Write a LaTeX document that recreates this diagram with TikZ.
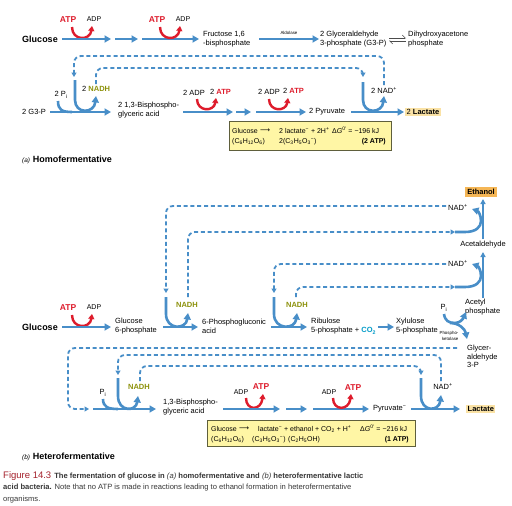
\documentclass[tikz,border=0pt]{standalone}
\usepackage{fontspec}
\setmainfont{Liberation Sans}
\newfontfamily\dejavu{DejaVu Sans}
\usetikzlibrary{arrows.meta}
\definecolor{flowblue}{RGB}{72,142,200}
\definecolor{atpred}{RGB}{222,28,44}
\definecolor{nadhcol}{RGB}{140,145,10}
\definecolor{cotwo}{RGB}{0,155,200}
\definecolor{boxfill}{RGB}{255,246,165}
\definecolor{boxline}{RGB}{95,95,60}
\definecolor{lacfill}{RGB}{250,226,165}
\definecolor{ethfill}{RGB}{245,182,85}
\definecolor{figred}{RGB}{165,35,45}
\definecolor{captxt}{RGB}{55,55,55}
\newcommand{\nadh}{\textcolor{nadhcol}{\bfseries NADH}}
\newcommand{\atp}{\textcolor{atpred}{\bfseries ATP}}
\begin{document}
\begin{tikzpicture}[x=1pt,y=-1pt,
  flow/.style={draw=flowblue,line width=2.6pt,-{Triangle[length=6.5pt,width=7pt]}},
  flowline/.style={draw=flowblue,line width=2.6pt},
  thinflow/.style={draw=flowblue,line width=1.4pt,-{Triangle[length=5pt,width=5pt]}},
  dashflow/.style={draw=flowblue,line width=1.8pt,dash pattern=on 4pt off 2.8pt,-{Triangle[length=4.5pt,width=5pt]},rounded corners=7pt},
  redarc/.style={draw=atpred,line width=2.4pt,-{Triangle[length=5pt,width=6pt]}},
  lbl/.style={inner sep=0pt,font=\fontsize{7.5}{9}\selectfont,align=left,anchor=west},
  lblc/.style={inner sep=0pt,font=\fontsize{7.5}{9}\selectfont,align=left},
  small/.style={inner sep=0pt,font=\fontsize{7}{8}\selectfont},
  atplbl/.style={inner sep=0pt,font=\fontsize{8.5}{9}\selectfont\bfseries,text=atpred},
  big/.style={inner sep=0pt,font=\fontsize{9}{10}\selectfont\bfseries},
  tiny/.style={inner sep=0pt,font=\fontsize{4.4}{5.2}\selectfont,align=left},
  boxtxt/.style={inner sep=0pt,font=\fontsize{7}{8}\selectfont,anchor=west},
  eqbox/.style={draw=boxline,fill=boxfill,line width=0.8pt},
  harp/.style={draw=black!70,line width=0.6pt,-{Straight Barb[left,length=3pt]}},
  captfont/.style={inner sep=0pt,anchor=west,font=\fontsize{7.6}{9}\selectfont,text=captxt}
]
\useasboundingbox[fill=white] (0,0) rectangle (512,506);

%================ (a) Homofermentative =================
% row 1
\node[big] (glcA) at (40,39) {Glucose};
\node[atplbl] (atpA1) at (68,20) {ATP};
\node[small] (adpA1) at (94,19) {ADP};
\coordinate (rA1s) at (72,27); \coordinate (rA1e) at (92,26);
\draw[redarc] (rA1s) .. controls (72,41) and (90,41) .. (rA1e);
\coordinate (a1s) at (62,39); \coordinate (a1e) at (111,39);
\coordinate (a2s) at (115,39); \coordinate (a2e) at (138,39);
\coordinate (a3s) at (142,39); \coordinate (a3e) at (199,39);
\draw[flow] (a1s) -- (a1e);
\draw[flow] (a2s) -- (a2e);
\draw[flow] (a3s) -- (a3e);
\node[atplbl] (atpA2) at (157,20) {ATP};
\node[small] (adpA2) at (183,19) {ADP};
\coordinate (rA2s) at (160,27); \coordinate (rA2e) at (180,26);
\draw[redarc] (rA2s) .. controls (160,41) and (178,41) .. (rA2e);
\node[lbl] (fbp) at (203,39) {Fructose 1,6\\-bisphosphate};
\node[tiny] (aldo) at (289,33) {Aldolase};
\coordinate (a4s) at (259,39); \coordinate (a4e) at (319,39);
\draw[flow] (a4s) -- (a4e);
\node[lbl] (g3p) at (320,39) {2 Glyceraldehyde\\3-phosphate (G3-P)};
\coordinate (h1s) at (389,38); \coordinate (h1e) at (406,38);
\coordinate (h2s) at (406,41); \coordinate (h2e) at (389,41);
\draw[harp] (h1s) -- (h1e);
\draw[harp] (h2s) -- (h2e);
\node[lbl] (dhap) at (408,39) {Dihydroxyacetone\\phosphate};

% row 2
\node[lbl] (g3pA) at (22,112) {2 G3-P};
\coordinate (b1s) at (50,112); \coordinate (b1e) at (111,112);
\draw[flow] (b1s) -- (b1e);
\node[lblc] (piA) at (61,95) {2 P\textsubscript{i}};
\coordinate (piAs) at (58,101); \coordinate (piAe) at (72,112);
\draw[flowline] (piAs) .. controls (58,110) and (62,112) .. (piAe);
\coordinate (nAs) at (75,80); \coordinate (nAe) at (96,96);
\draw[flow] (nAs) -- (75,100) .. controls (75,114) and (94,114) .. (nAe);
\node[lbl] (nadhA) at (82,89) {2 \nadh};
\node[lbl] (bpgA) at (118,110) {2 1,3-Bisphospho-\\glyceric acid};
\node[lbl] (adpA3) at (183,93) {2 ADP};
\node[lbl] (atpA3) at (210,92) {2 \atp};
\coordinate (rA3s) at (197,99); \coordinate (rA3e) at (216,98);
\draw[redarc] (rA3s) .. controls (197,112) and (214,112) .. (rA3e);
\coordinate (b2s) at (183,112); \coordinate (b2e) at (233,112);
\coordinate (b3s) at (236,112); \coordinate (b3e) at (251,112);
\coordinate (b4s) at (256,112); \coordinate (b4e) at (306,112);
\draw[flow] (b2s) -- (b2e);
\draw[flow] (b3s) -- (b3e);
\draw[flow] (b4s) -- (b4e);
\node[lbl] (adpA4) at (258,92) {2 ADP};
\node[lbl] (atpA4) at (283,91) {2 \atp};
\coordinate (rA4s) at (269,99); \coordinate (rA4e) at (288,98);
\draw[redarc] (rA4s) .. controls (269,112) and (286,112) .. (rA4e);
\node[lbl] (pyrA) at (309,112) {2 Pyruvate};
\coordinate (b5s) at (351,112); \coordinate (b5e) at (404,112);
\draw[flow] (b5s) -- (b5e);
\coordinate (nA2s) at (363,82); \coordinate (nA2e) at (384,96);
\draw[flow] (nA2s) -- (363,100) .. controls (363,114) and (382,114) .. (nA2e);
\node[lbl] (nadA) at (371,90) {2 NAD\textsuperscript{+}};
\node[lbl,fill=lacfill,inner sep=1.5pt] (lacA) at (405,112) {2 \textbf{Lactate}};

% dashed cofactor loops (a)
\coordinate (dAo1) at (384,85); \coordinate (dAo2) at (74,77);
\draw[dashflow] (dAo1) -- (384,56) -- (74,56) -- (dAo2);
\coordinate (dAi1) at (96,84); \coordinate (dAi2) at (363,77);
\draw[dashflow] (dAi1) -- (96,68) -- (363,68) -- (dAi2);

% equation box (a)
\node[eqbox,minimum width=162pt,minimum height=29pt,anchor=north west,inner sep=0pt] (boxA) at (229,121) {};
\node[boxtxt] (eqA1) at (232,131) {Glucose};
\node[boxtxt] (eqA2) at (260,131) {{\dejavu ⟶}};
\node[boxtxt] (eqA3) at (279,131) {2 lactate\textsuperscript{−} + 2H\textsuperscript{+}};
\node[boxtxt] (eqA4) at (332,130.5) {Δ\textit{G}\textsuperscript{0′} = −196 kJ};
\node[boxtxt] (eqA5) at (232,142) {(C\textsubscript{6}H\textsubscript{12}O\textsubscript{6})};
\node[boxtxt] (eqA6) at (279,142) {2(C\textsubscript{3}H\textsubscript{5}O\textsubscript{3}\textsuperscript{−})};
\node[boxtxt,anchor=east] (eqA7) at (386,142) {\textbf{(2 ATP)}};

\node[inner sep=0pt,anchor=west] (capA) at (22,160) {{\fontsize{6.5}{8}\selectfont\itshape (a)} {\fontsize{9}{10}\selectfont\bfseries Homofermentative}};

%================ (b) Heterofermentative =================
\node[inner sep=2pt,fill=ethfill,font=\fontsize{7.5}{9}\selectfont\bfseries] (eth) at (481,192) {Ethanol};
\node[lblc] (acald) at (483,245) {Acetaldehyde};
\node[lbl] (acp) at (465,307) {Acetyl\\phosphate};
\node[lbl,font=\fontsize{7.5}{8.5}\selectfont] (gap) at (467,356.5) {Glycer-\\aldehyde\\3-P};
\coordinate (v1s) at (483,239); \coordinate (v1e) at (483,199);
\draw[thinflow] (v1s) -- (v1e);
\coordinate (v2s) at (483,298); \coordinate (v2e) at (483,252);
\draw[thinflow] (v2s) -- (v2e);
\node[lbl] (nadB1) at (448,207) {NAD\textsuperscript{+}};
\node[lbl] (nadB2) at (448,263) {NAD\textsuperscript{+}};
\coordinate (cB1s) at (455,232); \coordinate (cB1e) at (472,209);
\draw[flow] (cB1s) -- (465,232) .. controls (476,232) and (481,227) .. (481,221) .. controls (481,215) and (478,211) .. (cB1e);
\coordinate (cB2s) at (455,287); \coordinate (cB2e) at (472,264);
\draw[flow] (cB2s) -- (465,287) .. controls (476,287) and (481,282) .. (481,276) .. controls (481,270) and (478,266) .. (cB2e);

% row b main
\node[atplbl] (atpB1) at (68,308) {ATP};
\node[small] (adpB1) at (94,307) {ADP};
\coordinate (rB1s) at (72,315); \coordinate (rB1e) at (92,314);
\draw[redarc] (rB1s) .. controls (72,329) and (90,329) .. (rB1e);
\node[big] (glcB) at (40,327) {Glucose};
\coordinate (c1s) at (62,327); \coordinate (c1e) at (111,327);
\draw[flow] (c1s) -- (c1e);
\node[lbl] (g6p) at (115,326.5) {Glucose\\6-phosphate};
\coordinate (c2s) at (163,327); \coordinate (c2e) at (198,327);
\draw[flow] (c2s) -- (c2e);
\coordinate (nB1s) at (166,297); \coordinate (nB1e) at (188,313);
\draw[flow] (nB1s) -- (166,314) .. controls (166,330) and (186,330) .. (nB1e);
\node[lblc] (nadhB1) at (187,305) {\nadh};
\node[lbl] (pga) at (202,326.5) {6-Phosphogluconic\\acid};
\coordinate (c3s) at (271,327); \coordinate (c3e) at (307,327);
\draw[flow] (c3s) -- (c3e);
\coordinate (nB2s) at (274,297); \coordinate (nB2e) at (297,313);
\draw[flow] (nB2s) -- (274,314) .. controls (274,330) and (295,330) .. (nB2e);
\node[lblc] (nadhB2) at (297,305) {\nadh};
\node[lbl] (ru5p) at (311,326.5) {Ribulose\\5-phosphate + \textcolor{cotwo}{\bfseries CO\textsubscript{2}}};
\coordinate (c4s) at (378,327); \coordinate (c4e) at (394,327);
\draw[flow] (c4s) -- (c4e);
\node[lbl] (xu5p) at (396,326.5) {Xylulose\\5-phosphate};
\node[tiny] (pkl) at (449,336) {Phospho-\\\ \ ketolase};
\node[lblc] (piB1) at (444,308) {P\textsubscript{i}};
\coordinate (pkA) at (444,314); \coordinate (pkAe) at (466,312);
\draw[flow] (pkA) .. controls (445,321) and (449,323) .. (455,323) .. controls (460,323) and (463,319) .. (pkAe);
\coordinate (pkB) at (450,323); \coordinate (pkBe) at (467,339);
\draw[flow] (pkB) .. controls (459,323) and (465,329) .. (pkBe);

% dashed loops (b) upper
\coordinate (dB1s) at (446,206); \coordinate (dB1e) at (166,293);
\draw[dashflow] (dB1s) -- (166,206) -- (dB1e);
\coordinate (dB2s) at (188,297); \coordinate (dB2e) at (455,232);
\draw[dashflow] (dB2s) -- (188,232) -- (dB2e);
\coordinate (dB3s) at (446,264); \coordinate (dB3e) at (274,293);
\draw[dashflow] (dB3s) -- (274,264) -- (dB3e);
\coordinate (dB4s) at (296,297); \coordinate (dB4e) at (455,287);
\draw[dashflow] (dB4s) -- (296,287) -- (dB4e);

% G3P return
\coordinate (gr1) at (457,348); \coordinate (gr2) at (89,409);
\draw[dashflow] (gr1) -- (68,348) -- (68,409) -- (gr2);

% bottom row
\node[lblc] (piB2) at (103,393) {P\textsubscript{i}};
\coordinate (piBs) at (103,399); \coordinate (piBe) at (118,409);
\draw[flowline] (piBs) .. controls (103,407) and (108,409) .. (piBe);
\coordinate (d1s) at (93,409); \coordinate (d1e) at (156,409);
\draw[flow] (d1s) -- (d1e);
\coordinate (nB3s) at (118,378); \coordinate (nB3e) at (138,396);
\draw[flow] (nB3s) -- (118,396) .. controls (118,412) and (136,412) .. (nB3e);
\node[lblc] (nadhB3) at (139,387) {\nadh};
\node[lbl] (bpgB) at (163,407.5) {1,3-Bisphospho-\\glyceric acid};
\node[small] (adpB2) at (241,392) {ADP};
\node[atplbl] (atpB2) at (261,387) {ATP};
\coordinate (rB2s) at (246,398); \coordinate (rB2e) at (263,394);
\draw[redarc] (rB2s) .. controls (246,411) and (261,411) .. (rB2e);
\coordinate (d2s) at (223,409); \coordinate (d2e) at (280,409);
\coordinate (d3s) at (286,409); \coordinate (d3e) at (307,409);
\coordinate (d4s) at (313,409); \coordinate (d4e) at (369,409);
\draw[flow] (d2s) -- (d2e);
\draw[flow] (d3s) -- (d3e);
\draw[flow] (d4s) -- (d4e);
\node[small] (adpB3) at (329,392) {ADP};
\node[atplbl] (atpB3) at (353,388) {ATP};
\coordinate (rB3s) at (333,398); \coordinate (rB3e) at (351,394);
\draw[redarc] (rB3s) .. controls (333,411) and (349,411) .. (rB3e);
\node[lbl] (pyrB) at (373,409) {Pyruvate\textsuperscript{−}};
\coordinate (d5s) at (411,409); \coordinate (d5e) at (460,409);
\draw[flow] (d5s) -- (d5e);
\coordinate (nB4s) at (421,378); \coordinate (nB4e) at (441,395);
\draw[flow] (nB4s) -- (421,396) .. controls (421,412) and (439,412) .. (nB4e);
\node[lblc] (nadB3) at (443,386) {NAD\textsuperscript{+}};
\node[lbl,fill=lacfill,inner sep=1.5pt,font=\fontsize{7.5}{9}\selectfont\bfseries] (lacB) at (466,409) {Lactate};

% dashed loops (b) lower
\coordinate (dB5s) at (441,381); \coordinate (dB5e) at (118,375);
\draw[dashflow] (dB5s) -- (441,355) -- (118,355) -- (dB5e);
\coordinate (dB6s) at (140,381); \coordinate (dB6e) at (421,375);
\draw[dashflow] (dB6s) -- (140,366) -- (421,366) -- (dB6e);

% equation box (b)
\node[eqbox,minimum width=208pt,minimum height=26pt,anchor=north west,inner sep=0pt] (boxB) at (207,420) {};
\node[boxtxt] (eqB1) at (211,429) {Glucose};
\node[boxtxt] (eqB2) at (239,429) {{\dejavu ⟶}};
\node[boxtxt] (eqB3) at (258,429) {lactate\textsuperscript{−} + ethanol + CO\textsubscript{2} + H\textsuperscript{+}};
\node[boxtxt] (eqB4) at (360,428.5) {Δ\textit{G}\textsuperscript{0′} = −216 kJ};
\node[boxtxt] (eqB5) at (211,440) {(C\textsubscript{6}H\textsubscript{12}O\textsubscript{6})};
\node[boxtxt] (eqB6) at (252,440) {(C\textsubscript{3}H\textsubscript{5}O\textsubscript{3}\textsuperscript{−})};
\node[boxtxt] (eqB7) at (288,440) {(C\textsubscript{2}H\textsubscript{5}OH)};
\node[boxtxt,anchor=east] (eqB8) at (409,440) {\textbf{(1 ATP)}};

\node[inner sep=0pt,anchor=west] (capB) at (22,457) {{\fontsize{6.5}{8}\selectfont\itshape (b)} {\fontsize{9}{10}\selectfont\bfseries Heterofermentative}};

% caption
\node[captfont] (fig1) at (3,476) {{\fontsize{9.5}{10}\selectfont\color{figred}Figure 14.3}\hspace{3pt}{\bfseries The fermentation of glucose in {\mdseries\itshape (a)} homofermentative and {\mdseries\itshape (b)} heterofermentative lactic}};
\node[captfont] (fig2) at (3,488) {\textbf{acid bacteria.} Note that no ATP is made in reactions leading to ethanol formation in heterofermentative};
\node[captfont] (fig3) at (3,500) {organisms.};
\end{tikzpicture}
\end{document}
